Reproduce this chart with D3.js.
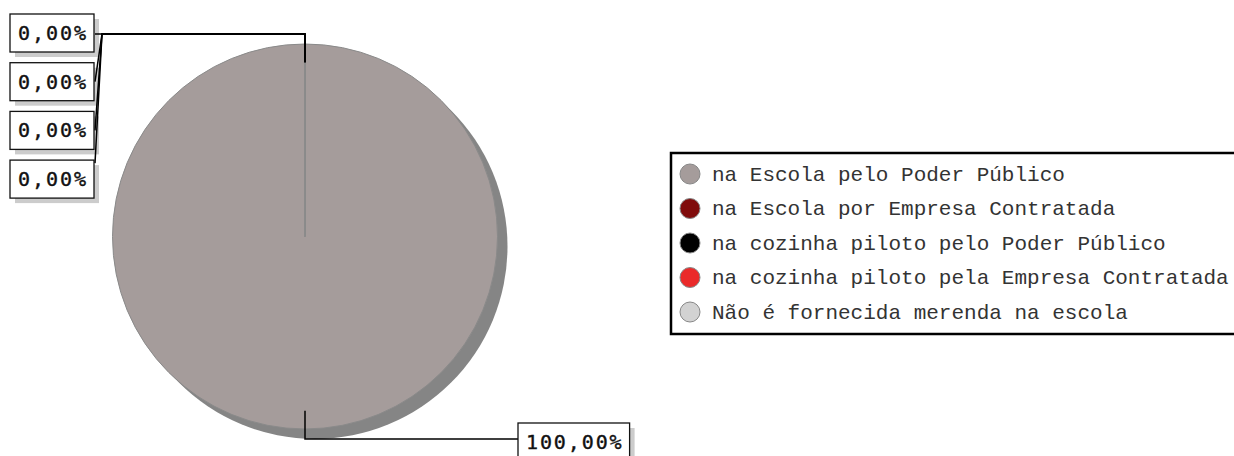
<!DOCTYPE html>
<html>
<head>
<meta charset="utf-8">
<script src="https://cdn.jsdelivr.net/npm/d3@7"></script>
<style>
  html, body { margin: 0; padding: 0; background: #fff; }
  svg { display: block; }
</style>
</head>
<body>
<svg id="chart" width="1234" height="456"></svg>
<script>
// ---- data ----
const categories = [
  "na Escola pelo Poder Público",
  "na Escola por Empresa Contratada",
  "na cozinha piloto pelo Poder Público",
  "na cozinha piloto pela Empresa Contratada",
  "Não é fornecida merenda na escola"
];
const values = [100, 0, 0, 0, 0];
const colors = ["#a59c9b", "#800c0c", "#000000", "#ea2a2a", "#d2d2d2"];

// ---- layout ----
const W = 1234, H = 456;
const cx = 305, cy = 236.5, R = 192.5;
const svg = d3.select("#chart");

const fmt = v => v.toFixed(2).replace(".", ",") + "%";

const pie = d3.pie().sort(null).value(d => d);
const arcs = pie(values);
const arc = d3.arc().innerRadius(0).outerRadius(R);

const g = svg.append("g").attr("transform", `translate(${cx},${cy})`);

// shadow
g.append("circle")
  .attr("cx", 10).attr("cy", 10).attr("r", R)
  .attr("fill", "#858585");

// slices
g.selectAll("path.slice")
  .data(arcs)
  .join("path")
  .attr("class", "slice")
  .attr("d", arc)
  .attr("fill", (d, i) => colors[i])
  .attr("stroke", "#8a8a8a")
  .attr("stroke-width", 1);

// ---- labels ----
const rIn = R * 0.905, rOut = R + 10;
const boxH = 38, charW = 13.8, padW = 15;
const shadows = svg.append("g");
const lines = svg.append("g");
const boxes = svg.append("g");

function drawBox(x, y, text) {
  const w = text.length * charW + padW;
  shadows.append("rect").attr("x", x + 5).attr("y", y + 5).attr("width", w).attr("height", boxH)
    .attr("fill", "#cccccc");
  boxes.append("rect").attr("x", x).attr("y", y).attr("width", w).attr("height", boxH)
    .attr("fill", "#fff").attr("stroke", "#111").attr("stroke-width", 1.3);
  boxes.append("text")
    .attr("x", x + w / 2).attr("y", y + 26)
    .attr("text-anchor", "middle")
    .attr("font-family", "DejaVu Sans Mono, monospace")
    .attr("font-size", 20)
    .attr("stroke", "#111")
    .attr("stroke-width", 0.4)
    .attr("textLength", text.length * charW - 1)
    .attr("lengthAdjust", "spacing")
    .attr("fill", "#111")
    .text(text);
  return w;
}

let leftIndex = 0;
const leftX = 10, leftY0 = 14, leftStep = 48.7;
const leftEnds = [20, 19, 19, 3];
arcs.forEach((d, i) => {
  const mid = (d.startAngle + d.endAngle) / 2;
  const sx = cx + rIn * Math.sin(mid), sy = cy - rIn * Math.cos(mid);
  const ex = cx + rOut * Math.sin(mid), ey = cy - rOut * Math.cos(mid);
  const text = fmt(values[i]);
  if (Math.cos(mid) < 0) {
    // bottom: goes to the right
    const bx = 518;
    lines.append("path")
      .attr("d", `M${sx},${sy}L${ex},${ey}L${bx},${ey}`)
      .attr("fill", "none").attr("stroke", "#000").attr("stroke-width", 1.5);
    drawBox(bx, ey - 16, text);
  } else {
    // top: stacked on the left
    const by = leftY0 + leftIndex * leftStep;
    const w = text.length * charW + padW;
    const jx = leftX + w + 8;
    const ty = leftIndex === 0 ? ey : by + leftEnds[leftIndex];
    lines.append("path")
      .attr("d", `M${sx},${sy}L${ex},${ey}L${jx},${ey}L${leftX + w + 1},${ty}`)
      .attr("fill", "none").attr("stroke", "#000").attr("stroke-width", 1.5);
    drawBox(leftX, by, text);
    leftIndex++;
  }
});

// ---- legend ----
const lg = svg.append("g");
lg.append("rect")
  .attr("x", 671).attr("y", 153).attr("width", 620).attr("height", 181)
  .attr("fill", "#fff").attr("stroke", "#000").attr("stroke-width", 2.5);
const rowY = d3.scalePoint().domain(categories).range([174, 312]);
const items = lg.selectAll("g.item").data(categories).join("g")
  .attr("class", "item")
  .attr("transform", d => `translate(0,${rowY(d)})`);
items.append("circle")
  .attr("cx", 690).attr("cy", 0).attr("r", 10)
  .attr("fill", (d, i) => colors[i])
  .attr("stroke", "#888").attr("stroke-width", 1);
items.append("text")
  .attr("x", 712).attr("y", 6.5)
  .attr("font-family", "Liberation Mono, Courier New, monospace")
  .attr("font-size", 21)
  .attr("fill", "#333")
  .text(d => d);
</script>
</body>
</html>
